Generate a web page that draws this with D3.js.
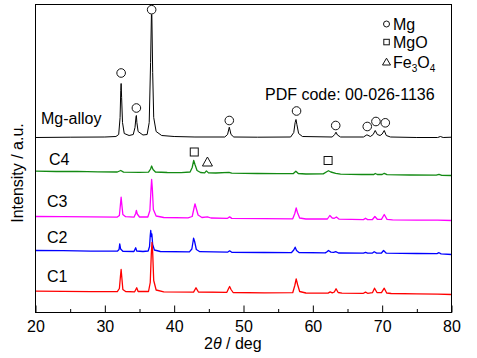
<!DOCTYPE html>
<html>
<head>
<meta charset="utf-8">
<script src="https://cdn.jsdelivr.net/npm/d3@7"></script>
<style>
  html, body { margin: 0; padding: 0; background: #fff; }
  svg { display: block; }
  text { font-family: Arial, "Liberation Sans", sans-serif; }
</style>
</head>
<body>
<div id="chart"></div>
<script>
// ---------------- DATA ----------------
const xTicks = [20, 30, 40, 50, 60, 70, 80];
const xMinorTicks = [25, 35, 45, 55, 65, 75];
const seriesNames = ["Mg-alloy", "C4", "C3", "C2", "C1"];
const seriesColors = ["#000000", "#138a13", "#ff00ff", "#0000ff", "#ff0000"];

// [2theta (deg), intensity (a.u., stacked offset included)]
const mgAlloy = [[20,175],[25,175.3],[30,175.5],[31.6,176],[32.0,178],[32.2,195],[32.3,222],[32.35,229],[32.42,215],[32.55,190],[32.8,179],[33.5,177],[34.1,178],[34.35,185],[34.5,196],[34.55,197],[34.62,190],[34.8,181],[35.5,177.5],[36.1,178],[36.4,190],[36.6,250],[36.72,298],[36.78,298],[36.9,240],[37.05,195],[37.4,181],[38.2,177],[40,176],[43,175.5],[47.3,175.5],[47.7,178],[47.95,185.3],[48.2,178],[48.6,175.5],[52,175.3],[56.8,175.5],[57.25,180],[57.45,190],[57.57,193],[57.7,188],[57.95,179],[58.5,176],[62.8,175.5],[63.15,178],[63.34,180.3],[63.55,177.5],[64,175.5],[67.3,175.5],[67.8,177.7],[68.3,176],[68.7,178],[69.0,182],[69.3,178],[69.7,177],[70.0,178.5],[70.3,182],[70.6,177],[71.2,175.5],[75,175],[78,175],[78.4,176],[78.8,175],[80,175.3]];

const c4 = [[20,141.3],[23,141.0],[26,141.2],[29,140.6],[31.8,140.5],[32.3,142],[32.7,140.4],[35,140.2],[36.3,140.4],[36.6,143.5],[36.75,146.5],[36.95,143],[37.3,140.5],[39,140],[41,139.9],[42.3,140.5],[42.6,145],[42.82,152],[43.0,148],[43.3,142],[43.8,140],[44.4,139.6],[44.65,141.6],[44.95,139.6],[46,139.5],[47.9,140.2],[48.3,139.3],[52,139],[55,138.8],[57.2,139],[57.55,141.3],[57.9,139],[59,138.5],[61.5,138.6],[62.0,140.8],[62.25,141.8],[62.6,140.5],[63.3,139.2],[64,138.3],[67,138],[68.8,138],[69.0,139],[69.3,138],[70.0,138],[70.3,139.2],[70.7,137.8],[74,137.5],[77.8,137.4],[78.2,138.2],[78.6,137.2],[80,137]];

const c3 = [[20,96],[24,95.8],[28,95.6],[31.8,95.4],[32.1,97],[32.25,108],[32.35,115.3],[32.45,108],[32.6,98],[33,95.8],[34.2,95.3],[34.45,99],[34.55,102],[34.68,98.5],[35,95.5],[36.2,95.5],[36.5,102],[36.65,122],[36.75,133],[36.85,124],[37.0,103],[37.4,96.5],[38.5,95],[42,94.7],[42.6,96],[42.85,104],[43.0,108.7],[43.15,105],[43.45,97.5],[44,95],[44.8,95.6],[45.3,94.5],[47.7,94.2],[48.0,95.6],[48.3,94.1],[53,93.8],[57.1,93.7],[57.4,99],[57.6,104.7],[57.78,100],[58.1,94.5],[59,93.5],[62.1,93.5],[62.45,97],[62.8,94.5],[63.1,94.2],[63.4,95.5],[63.8,93.3],[67.3,92.9],[67.6,94.3],[67.9,92.9],[68.6,93],[68.95,96],[69.3,93.2],[69.9,93.2],[70.3,98],[70.7,93.2],[71.5,92.7],[75,92.4],[78,92.3],[80,92]];

const c2 = [[20,62],[24,61.8],[28,61.4],[31.8,61.3],[32.05,63],[32.15,68.7],[32.28,63.5],[32.6,61.2],[34.2,61],[34.45,64.7],[34.6,61.5],[35.5,61],[36.25,61.5],[36.45,66],[36.55,77],[36.62,82],[36.7,76],[36.78,78.5],[36.9,68],[37.15,62.5],[38,61],[42.2,60.6],[42.55,63.5],[42.75,72],[42.8,74.3],[42.95,71],[43.2,63],[43.7,60.8],[47.7,60.3],[48.0,61.7],[48.3,60.2],[53,60],[56.9,59.8],[57.25,62.5],[57.45,65.3],[57.65,62],[58,60],[61.8,59.6],[62.1,61],[62.25,62],[62.6,60.4],[63.0,60.2],[63.3,60.8],[63.7,59.5],[67.3,59.3],[67.6,60.2],[67.9,59.3],[68.6,59.4],[68.85,60.8],[69.2,59.4],[69.9,59.5],[70.2,62],[70.6,59.3],[75,59],[77.9,58.8],[78.2,59.8],[78.5,58.6],[80,58]];

const c1 = [[20,21.3],[24,21.1],[28,20.9],[31.8,20.8],[32.1,24],[32.25,36],[32.35,43],[32.45,35],[32.6,23],[33,21],[34.3,20.7],[34.6,24.7],[34.8,21],[36.3,21],[36.55,30],[36.7,58],[36.8,70],[36.9,60],[37.05,32],[37.4,22.5],[38.5,20.7],[42.8,20.4],[43.15,24.7],[43.5,20.5],[47.6,20.2],[47.85,24],[48.0,26],[48.2,23],[48.5,20],[53,19.7],[57.1,19.8],[57.4,27],[57.6,33.7],[57.8,28],[58.1,21],[59,19.5],[62.2,19.4],[62.5,20.6],[62.8,19.6],[63.1,20.5],[63.35,23.7],[63.65,20],[64.2,19.3],[67.3,19.2],[67.6,20.4],[67.9,19.2],[68.6,19.8],[68.9,24.3],[69.25,20],[69.9,19.8],[70.3,24.3],[70.65,19.5],[71.3,19],[75,18.6],[78,18.4],[80,18]];

// phase annotations [2theta, intensity level]
const mgMarks = [[32.35,239.5],[34.55,204.5],[36.75,302.8],[47.95,192],[57.65,201.5],[63.3,187],[67.85,186],[69.1,191],[70.45,189.7]];
const mgoMarks = [[42.9,160.5],[62.2,152]];
const fe3o4Marks = [[44.8,150.5]];

const legendItems = ["Mg", "MgO", "Fe3O4"];
const pdfCode = "PDF code: 00-026-1136";

// ---------------- CHART ----------------
const W = 477, H = 358;
const svg = d3.select("#chart").append("svg").attr("width", W).attr("height", H);

const x = d3.scaleLinear().domain([20, 80]).range([35.5, 451.5]);
const y = d3.scaleLinear().domain([0, 308]).range([312.5, 4.5]);

const allSeries = [mgAlloy, c4, c3, c2, c1];
const line = d3.line().x(d => x(d[0])).y(d => y(d[1]));

svg.append("g").selectAll("path").data(allSeries).join("path")
  .attr("d", d => line(d))
  .attr("fill", "none")
  .attr("stroke", (d, i) => seriesColors[i])
  .attr("stroke-width", (d, i) => i === 0 ? 1 : 1.3)
  .attr("stroke-linejoin", "round");

// frame
svg.append("rect").attr("x", 35.5).attr("y", 4.5).attr("width", 416).attr("height", 308)
  .attr("fill", "none").attr("stroke", "#000").attr("stroke-width", 1);

// axes
const gx = svg.append("g").attr("transform", "translate(0,312.5)")
  .call(d3.axisBottom(x).tickValues(xTicks).tickSize(-7).tickPadding(8).tickFormat(d3.format("d")));
gx.select(".domain").remove();
gx.selectAll("text").attr("font-size", 16).attr("fill", "#000")
  .attr("font-family", 'Arial, "Liberation Sans", sans-serif');
gx.selectAll("line").attr("stroke", "#000");

const gm = svg.append("g").attr("transform", "translate(0,312.5)")
  .call(d3.axisBottom(x).tickValues(xMinorTicks).tickSize(-3.5).tickFormat(""));
gm.select(".domain").remove();
gm.selectAll("line").attr("stroke", "#000");

// axis titles
const xt = svg.append("text").attr("x", 204).attr("y", 349).attr("font-size", 16).attr("fill", "#000");
xt.append("tspan").text("2");
xt.append("tspan").attr("font-style", "italic").text("θ");
xt.append("tspan").text(" / deg");

svg.append("text").attr("transform", "translate(23,173) rotate(-90)")
  .attr("text-anchor", "middle").attr("font-size", 16).attr("fill", "#000")
  .text("Intensity / a.u.");

// series labels
const labelPos = [[41, 124], [49, 165], [47, 206.5], [47, 242.5], [47, 281.5]];
svg.append("g").selectAll("text").data(seriesNames).join("text")
  .attr("x", (d, i) => labelPos[i][0]).attr("y", (d, i) => labelPos[i][1])
  .attr("font-size", 16).attr("fill", "#000").text(d => d);

// markers
const mk = svg.append("g").attr("fill", "none").attr("stroke", "#111").attr("stroke-width", 1);
mk.selectAll("circle").data(mgMarks).join("circle")
  .attr("cx", d => x(d[0])).attr("cy", d => y(d[1])).attr("r", 4.3);
mk.selectAll("rect").data(mgoMarks).join("rect")
  .attr("x", d => x(d[0]) - 4).attr("y", d => y(d[1]) - 4).attr("width", 8).attr("height", 8);
mk.selectAll("path").data(fe3o4Marks).join("path")
  .attr("d", d => {
    const cx = x(d[0]), cy = y(d[1]);
    return `M${cx - 5},${cy + 4}L${cx + 5},${cy + 4}L${cx},${cy - 5}Z`;
  });

// legend
const lg = svg.append("g");
lg.append("circle").attr("cx", 386.5).attr("cy", 24).attr("r", 3)
  .attr("fill", "none").attr("stroke", "#111");
lg.append("rect").attr("x", 383.8).attr("y", 39.3).attr("width", 5.5).attr("height", 5.5)
  .attr("fill", "none").attr("stroke", "#111");
lg.append("path").attr("d", "M382.5,65L390.5,65L386.5,58.2Z")
  .attr("fill", "none").attr("stroke", "#111");
lg.append("text").attr("x", 393).attr("y", 29.5).attr("font-size", 16).attr("fill", "#000").text(legendItems[0]);
lg.append("text").attr("x", 393).attr("y", 47.5).attr("font-size", 16).attr("fill", "#000").text(legendItems[1]);
const fe = lg.append("text").attr("x", 393).attr("y", 67.5).attr("font-size", 16).attr("fill", "#000");
fe.append("tspan").text("Fe");
fe.append("tspan").attr("font-size", 10).attr("dy", 4).text("3");
fe.append("tspan").attr("dy", -4).text("O");
fe.append("tspan").attr("font-size", 10).attr("dy", 4).text("4");

svg.append("text").attr("x", 265).attr("y", 99.5).attr("font-size", 16).attr("fill", "#000").text(pdfCode);
</script>
</body>
</html>
